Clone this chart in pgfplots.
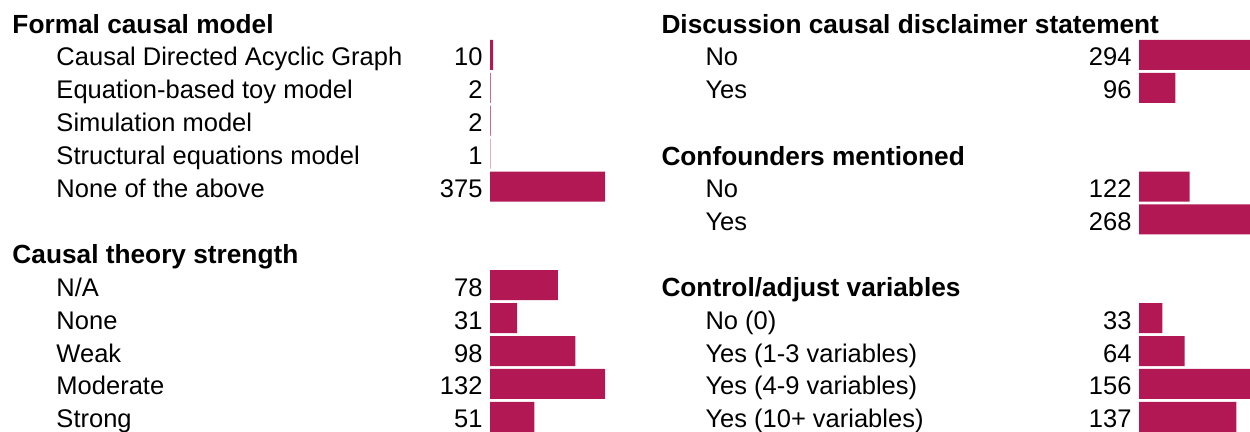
\documentclass[border=0pt]{standalone}
\usepackage{fontspec}
\setmainfont{Liberation Sans}
\usepackage{pgfplots}
\usepackage{pgfplotstable}
\pgfplotsset{compat=1.18}
\definecolor{barc}{RGB}{178,24,84}

% one table per block: row, count, label
\pgfplotstableread[col sep=comma]{
y,n,label
1,10,Causal Directed Acyclic Graph
2,2,Equation-based toy model
3,2,Simulation model
4,1,Structural equations model
5,375,None of the above
}\formal
\pgfplotstableread[col sep=comma]{
y,n,label
1,78,N/A
2,31,None
3,98,Weak
4,132,Moderate
5,51,Strong
}\theory
\pgfplotstableread[col sep=comma]{
y,n,label
1,294,No
2,96,Yes
}\disclaim
\pgfplotstableread[col sep=comma]{
y,n,label
1,122,No
2,268,Yes
}\confound
\pgfplotstableread[col sep=comma]{
y,n,label
1,33,No (0)
2,64,Yes (1-3 variables)
3,156,Yes (4-9 variables)
4,137,Yes (10+ variables)
}\control

\newcommand{\txt}{\fontsize{10.2}{12}\selectfont}

\pgfplotsset{
  block/.style={scale only axis, hide axis, clip=false, anchor=north west,
    xmin=0, y dir=reverse, ymin=0.5, ymax=#1+0.5, height=#1*13.16pt},
  bars/.style={xbar, bar shift=0pt, bar width=12pt, fill=barc, draw=none},
  vals/.style={draw=none, mark=none, nodes near coords, point meta=explicit symbolic,
    nodes near coords style={anchor=base east, inner sep=0pt, xshift=-2.8pt, yshift=-4.4pt, font=\txt, text=black}},
  labs/.style={draw=none, mark=none, nodes near coords, point meta=explicit symbolic,
    nodes near coords style={anchor=base west, inner sep=0pt, xshift=-173.6pt, yshift=-4.4pt, font=\txt, text=black}},
}
\newcommand{\head}[1]{\node[anchor=base west, inner sep=0pt, xshift=-191.2pt, yshift=-4.6pt, font=\fontsize{10.5}{12}\selectfont\bfseries] at (axis cs:0,0) {#1};}

\begin{document}
\begin{tikzpicture}
\path[use as bounding box] (0,0) rectangle (500pt,-172.4pt);

\begin{axis}[block=5, width=46pt, xmax=375, at={(196pt,-15.38pt)}]
  \addplot[bars] table[x=n, y=y] {\formal};
  \addplot[vals] table[x expr=0, y=y, meta=n] {\formal};
  \addplot[labs] table[x expr=0, y=y, meta=label] {\formal};
  \head{Formal causal model}
\end{axis}

\begin{axis}[block=5, width=46pt, xmax=132, at={(196pt,-107.5pt)}]
  \addplot[bars] table[x=n, y=y] {\theory};
  \addplot[vals] table[x expr=0, y=y, meta=n] {\theory};
  \addplot[labs] table[x expr=0, y=y, meta=label] {\theory};
  \head{Causal theory strength}
\end{axis}

\begin{axis}[block=2, width=44.4pt, xmax=294, at={(455.6pt,-15.38pt)}]
  \addplot[bars] table[x=n, y=y] {\disclaim};
  \addplot[vals] table[x expr=0, y=y, meta=n] {\disclaim};
  \addplot[labs] table[x expr=0, y=y, meta=label] {\disclaim};
  \head{Discussion causal disclaimer statement}
\end{axis}

\begin{axis}[block=2, width=44.4pt, xmax=268, at={(455.6pt,-68.02pt)}]
  \addplot[bars] table[x=n, y=y] {\confound};
  \addplot[vals] table[x expr=0, y=y, meta=n] {\confound};
  \addplot[labs] table[x expr=0, y=y, meta=label] {\confound};
  \head{Confounders mentioned}
\end{axis}

\begin{axis}[block=4, width=44.4pt, xmax=156, at={(455.6pt,-120.66pt)}]
  \addplot[bars] table[x=n, y=y] {\control};
  \addplot[vals] table[x expr=0, y=y, meta=n] {\control};
  \addplot[labs] table[x expr=0, y=y, meta=label] {\control};
  \head{Control/adjust variables}
\end{axis}
\end{tikzpicture}
\end{document}
